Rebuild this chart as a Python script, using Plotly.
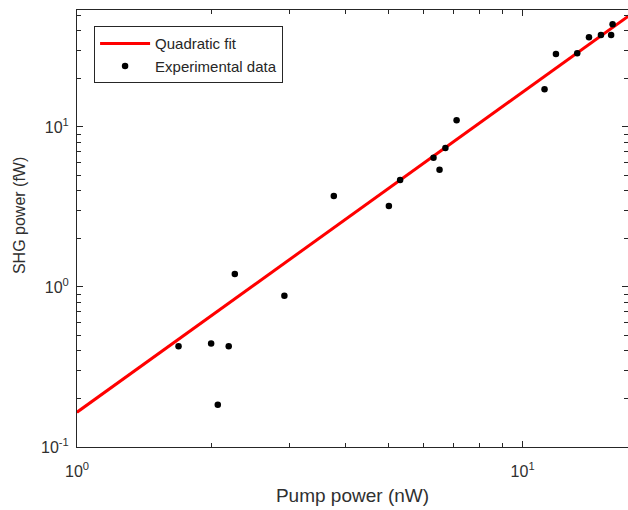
import plotly.graph_objects as go

pump_nw = [1.69, 2.00, 2.19, 2.07, 2.26, 2.92, 3.77, 5.01, 5.31, 6.31, 6.51, 6.71, 7.11,
           11.2, 11.88, 13.26, 14.09, 14.99, 15.80, 15.92]
shg_fw = [0.426, 0.443, 0.426, 0.184, 1.205, 0.882, 3.70, 3.21, 4.67, 6.43, 5.41, 7.39, 11.0,
          17.2, 28.6, 28.9, 36.4, 37.6, 37.6, 43.9]

# Quadratic fit line endpoints
fit_x = [1.0, 17.3]
fit_y = [0.165, 49.4]

x_major = [1, 10]
x_major_text = ["10<sup>0</sup>", "10<sup>1</sup>"]
x_minor = [2, 3, 4, 5, 6, 7, 8, 9, 20]
y_major = [0.1, 1, 10]
y_major_text = ["10<sup>-1</sup>", "10<sup>0</sup>", "10<sup>1</sup>"]
y_minor = [0.2, 0.3, 0.4, 0.5, 0.6, 0.7, 0.8, 0.9, 2, 3, 4, 5, 6, 7, 8, 9, 20, 30, 40, 50]

axis_col = "#262626"
text_col = "#303030"
font_fam = "Liberation Sans, Arial, sans-serif"

fig = go.Figure()
fig.add_trace(go.Scatter(x=fit_x, y=fit_y, mode="lines", name="Quadratic fit",
                         line=dict(color="#ff0000", width=3)))
fig.add_trace(go.Scatter(x=pump_nw, y=shg_fw, mode="markers", name="Experimental data",
                         marker=dict(color="black", size=6.5)))

common = dict(showgrid=False, zeroline=False, showline=True, linecolor=axis_col, linewidth=1,
              mirror="ticks", ticks="inside", ticklen=6, tickcolor=axis_col,
              tickfont=dict(family=font_fam, size=16, color=text_col))

fig.update_xaxes(type="log", range=[0, 1.2365], tickvals=x_major, ticktext=x_major_text,
                 minor=dict(ticks="inside", ticklen=4, tickcolor=axis_col, tickvals=x_minor),
                 ticklabelstandoff=10,
                 title=dict(text="Pump power (nW)", font=dict(family=font_fam, size=19, color=text_col),
                            standoff=9),
                 **common)
fig.update_yaxes(type="log", range=[-1, 1.731], tickvals=y_major, ticktext=y_major_text,
                 minor=dict(ticks="inside", ticklen=4, tickcolor=axis_col, tickvals=y_minor),
                 ticklabelstandoff=4,
                 **common)

fig.add_annotation(text="SHG power (fW)", xref="paper", yref="paper", x=-0.103, y=0.529,
                   xanchor="center", yanchor="middle", textangle=-90, showarrow=False,
                   font=dict(family=font_fam, size=16, color=text_col))

fig.update_layout(
    width=628, height=510,
    margin=dict(l=77, r=0, t=10, b=63),
    plot_bgcolor="white", paper_bgcolor="white",
    font=dict(family=font_fam, color=axis_col),
    legend=dict(x=0.031, y=0.963, xanchor="left", yanchor="top",
                bgcolor="white", bordercolor=axis_col, borderwidth=1,
                font=dict(family=font_fam, size=15, color=axis_col),
                itemwidth=50, tracegroupgap=0),
)

fig.write_html("out.html")
